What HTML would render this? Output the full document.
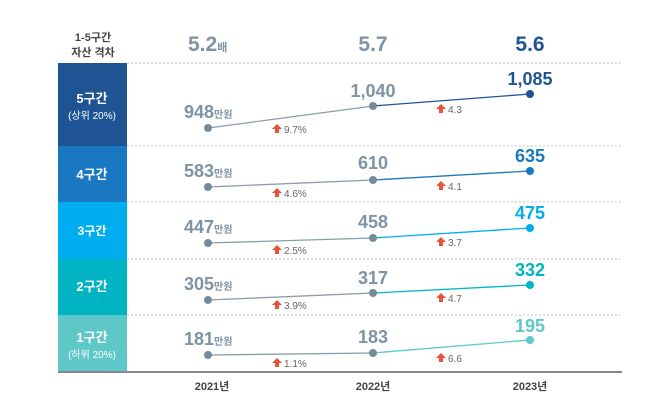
<!DOCTYPE html>
<html><head><meta charset="utf-8"><style>
html,body{margin:0;padding:0;background:#fff;}
svg{display:block;font-family:"Liberation Sans","Noto Sans CJK KR",sans-serif;}
</style></head><body>
<svg width="660" height="416" viewBox="0 0 660 416" xmlns="http://www.w3.org/2000/svg">
<defs>
<g id="ar"><polygon points="0,-9 5,-4 2,-4 2,0 -2,0 -2,-4 -5,-4" fill="#e8533c"/></g>
</defs>
<!-- header -->
<text x="93" y="41" font-size="11" font-weight="bold" fill="#444" text-anchor="middle">1-5구간</text>
<text x="93" y="56" font-size="11" font-weight="bold" fill="#444" text-anchor="middle">자산 격차</text>
<text x="188" y="51" font-size="21" font-weight="bold" fill="#7e93a3">5.2<tspan font-size="11">배</tspan></text>
<text x="373" y="51" font-size="21" font-weight="bold" fill="#7e93a3" text-anchor="middle">5.7</text>
<text x="530" y="51" font-size="21" font-weight="bold" fill="#1e5494" text-anchor="middle">5.6</text>
<!-- boxes -->
<rect x="58" y="63" width="69" height="83" fill="#1e5494"/>
<rect x="58" y="146" width="69" height="56" fill="#1a78c2"/>
<rect x="58" y="202" width="69" height="57" fill="#00aeef"/>
<rect x="58" y="259" width="69" height="56" fill="#00b4c4"/>
<rect x="58" y="315" width="69" height="57" fill="#5ec8c8"/>
<g fill="#fff" font-weight="bold" text-anchor="middle">
<text x="92" y="103" font-size="13">5구간</text>
<text x="92" y="119" font-size="10" font-weight="normal">(상위 20%)</text>
<text x="92" y="179" font-size="13">4구간</text>
<text x="92" y="235" font-size="12">3구간</text>
<text x="92" y="291" font-size="13">2구간</text>
<text x="92" y="342" font-size="13">1구간</text>
<text x="92" y="358" font-size="10" font-weight="normal">(하위 20%)</text>
</g>
<!-- grid -->
<g stroke="#b8c4ce" stroke-width="1" stroke-dasharray="2,2">
<line x1="127" y1="63" x2="622" y2="63"/>
<line x1="127" y1="146" x2="622" y2="146"/>
<line x1="127" y1="202" x2="622" y2="202"/>
<line x1="127" y1="259" x2="622" y2="259"/>
<line x1="127" y1="315" x2="622" y2="315"/>
</g>
<line x1="58" y1="372" x2="622" y2="372" stroke="#888" stroke-width="2"/>
<!-- series -->
<g stroke-width="1.3" fill="none">
<polyline points="208,128 373,106" stroke="#8a9cab"/><polyline points="373,106 530,94" stroke="#1e5494"/>
<polyline points="208,187 373,180" stroke="#8a9cab"/><polyline points="373,180 530,171" stroke="#1a78c2"/>
<polyline points="208,243 373,238" stroke="#8a9cab"/><polyline points="373,238 530,228" stroke="#00aeef"/>
<polyline points="208,300 373,293" stroke="#8a9cab"/><polyline points="373,293 530,285" stroke="#00b4c4"/>
<polyline points="208,355 373,353" stroke="#8a9cab"/><polyline points="373,353 530,340" stroke="#5ec8c8"/>
</g>
<g fill="#768b9a">
<circle cx="208" cy="128" r="4"/><circle cx="373" cy="106" r="4"/>
<circle cx="208" cy="187" r="4"/><circle cx="373" cy="180" r="4"/>
<circle cx="208" cy="243" r="4"/><circle cx="373" cy="238" r="4"/>
<circle cx="208" cy="300" r="4"/><circle cx="373" cy="293" r="4"/>
<circle cx="208" cy="355" r="4"/><circle cx="373" cy="353" r="4"/>
</g>
<circle cx="530" cy="94" r="4" fill="#1e5494"/>
<circle cx="530" cy="171" r="4" fill="#1a78c2"/>
<circle cx="530" cy="228" r="4" fill="#00aeef"/>
<circle cx="530" cy="285" r="4" fill="#00b4c4"/>
<circle cx="530" cy="340" r="4" fill="#5ec8c8"/>
<!-- value labels -->
<g font-size="18" font-weight="bold" fill="#7e93a3">
<text x="184" y="118">948<tspan font-size="10">만원</tspan></text>
<text x="184" y="177">583<tspan font-size="10">만원</tspan></text>
<text x="184" y="233">447<tspan font-size="10">만원</tspan></text>
<text x="184" y="290">305<tspan font-size="10">만원</tspan></text>
<text x="184" y="345">181<tspan font-size="10">만원</tspan></text>
<g text-anchor="middle">
<text x="373" y="97">1,040</text>
<text x="373" y="169">610</text>
<text x="373" y="228">458</text>
<text x="373" y="284">317</text>
<text x="373" y="343">183</text>
</g>
</g>
<g font-size="18" font-weight="bold" text-anchor="middle">
<text x="530" y="85" fill="#1e5494">1,085</text>
<text x="530" y="162" fill="#1a78c2">635</text>
<text x="530" y="219" fill="#00aeef">475</text>
<text x="530" y="276" fill="#00b4c4">332</text>
<text x="530" y="332" fill="#5ec8c8">195</text>
</g>
<!-- arrows -->
<g font-size="10" fill="#666">
<use href="#ar" x="277" y="133"/><text x="284" y="133">9.7%</text>
<use href="#ar" x="441" y="113"/><text x="448" y="113">4.3</text>
<use href="#ar" x="277" y="197"/><text x="284" y="197">4.6%</text>
<use href="#ar" x="441" y="190"/><text x="448" y="190">4.1</text>
<use href="#ar" x="277" y="254"/><text x="284" y="254">2.5%</text>
<use href="#ar" x="441" y="246"/><text x="448" y="246">3.7</text>
<use href="#ar" x="277" y="309"/><text x="284" y="309">3.9%</text>
<use href="#ar" x="441" y="302"/><text x="448" y="302">4.7</text>
<use href="#ar" x="277" y="367"/><text x="284" y="367">1.1%</text>
<use href="#ar" x="441" y="362"/><text x="448" y="362">6.6</text>
</g>
<!-- years -->
<g font-size="11" font-weight="bold" fill="#444" text-anchor="middle">
<text x="212" y="390">2021년</text>
<text x="373" y="390">2022년</text>
<text x="530" y="390">2023년</text>
</g>
</svg>
</body></html>
